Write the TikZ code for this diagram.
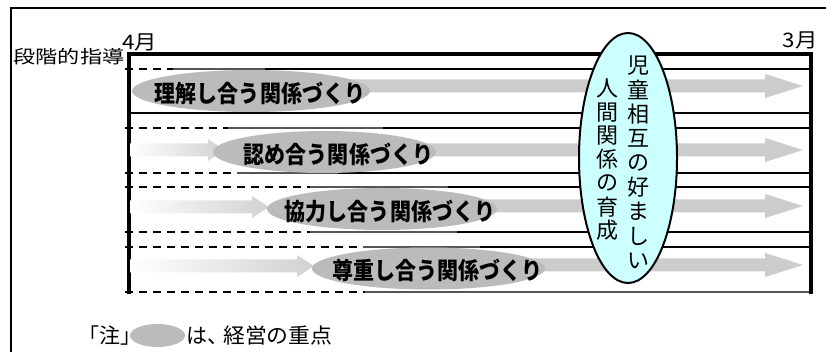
\documentclass[tikz,border=0pt]{standalone}
\usepackage{fontspec}
\usetikzlibrary{shapes.geometric}
\newfontfamily\cjk{Noto Sans CJK JP}
\newfontfamily\cjkp[RawFeature=+palt]{Noto Sans CJK JP}
\definecolor{bandgray}{HTML}{CCCCCC}
\definecolor{ellgray}{HTML}{BBBBBB}
\definecolor{cyanfill}{HTML}{CCFFFF}
\definecolor{linegray}{HTML}{555555}
\newcommand\rowlabel[1]{\scalebox{1.02}[1.15]{#1}}
\begin{document}
\begin{tikzpicture}[x=1pt,y=-1pt,
  rowdash/.style={line width=1.6pt, dash pattern=on 8pt off 6pt},
  rowgray/.style={line width=1.8pt, draw=linegray},
  rowsolid/.style={line width=1.8pt, draw=black},
  thick line/.style={line width=3.5pt, line cap=rect},
  ellbox/.style={ellipse, fill=ellgray, inner sep=0pt, minimum height=42pt},
  lbl/.style={font=\cjk\bfseries\fontsize{20.6}{22}\selectfont, inner sep=0pt},
  vch/.style={font=\cjk\fontsize{22}{22}\selectfont, inner sep=0pt},
  plain/.style={font=\cjk\fontsize{18}{20}\selectfont, inner sep=0pt}
]
\useasboundingbox (0,0) rectangle (826,352);
\clip (0,0) rectangle (826,352);
% outer frame
\draw[line width=1.6pt] (11,8) rectangle (850,380);

% row lines
\draw[rowdash] (125,69) -- (173,69);
\draw[rowgray] (173,69) -- (265,69);
\draw[rowsolid] (265,69) -- (811,69);
\draw[rowsolid] (129,113) -- (811,113);
\draw[rowdash] (125,128) -- (228,128);
\draw[rowgray] (228,128) -- (383,128);
\draw[rowsolid] (383,128) -- (811,128);
\draw[rowdash] (125,173) -- (237,173);
\draw[rowgray] (237,173) -- (338,173);
\draw[rowsolid] (338,173) -- (811,173);
\draw[rowdash] (125,187) -- (310,187);
\draw[rowgray] (310,187) -- (448,187);
\draw[rowsolid] (448,187) -- (811,187);
\draw[rowdash] (125,232) -- (310,232);
\draw[rowgray] (310,232) -- (457,232);
\draw[rowsolid] (457,232) -- (811,232);
\draw[rowdash] (125,247) -- (363,247);
\draw[rowgray] (363,247) -- (480,247);
\draw[rowsolid] (480,247) -- (811,247);
\draw[rowdash] (125,292) -- (365,292);
\draw[rowgray] (365,292) -- (811,292);

% main box
\draw[thick line] (129,292) -- (129,54) -- (811,54) -- (811,292);

% right gray arrows
\foreach \c/\xs in {86/251, 150/324, 206/382, 265/428} {
  \fill[bandgray] (\xs,\c-6.5) -- (765,\c-6.5) -- (765,\c-12) -- (803,\c)
     -- (765,\c+12) -- (765,\c+6.5) -- (\xs,\c+6.5) -- cycle;
}
% left gradient arrows
\foreach \c/\xh/\tip in {150/208/225, 207/252/269, 266/297/314} {
  \shade[left color=white, right color=bandgray!90]
     (130,\c-6.5) -- (\xh,\c-6.5) -- (\xh,\c-11) -- (\tip,\c)
     -- (\xh,\c+11) -- (\xh,\c+6.5) -- (130,\c+6.5) -- cycle;
}

% row ellipses and labels
\node[ellbox, minimum width=238pt] (e1) at (251,91) {};
\node[ellbox, minimum width=223pt] (e2) at (324.5,152) {};
\node[ellbox, minimum width=230pt] (e3) at (382,209) {};
\node[ellbox, minimum width=233pt] (e4) at (428.5,268.5) {};
\node[lbl] (t1) at (260,93) {\rowlabel{理解し合う関係づくり}};
\node[lbl] (t2) at (338.5,154) {\rowlabel{認め合う関係づくり}};
\node[lbl] (t3) at (390,211) {\rowlabel{協力し合う関係づくり}};
\node[lbl] (t4) at (437.5,270) {\rowlabel{尊重し合う関係づくり}};

% big cyan ellipse
\node[ellipse, draw, line width=2pt, fill=cyanfill, inner sep=0pt,
      minimum width=98pt, minimum height=250pt] (big) at (628,158) {};
\foreach \ch [count=\i] in {児,童,相,互,の,好,ま,し,い}
  \node[vch] (r\i) at (638,{53+24.4*\i-12.2}) {\ch};
\foreach \ch [count=\i] in {人,間,関,係,の,育,成}
  \node[vch] (l\i) at (607,{77+23.6*\i-11.8}) {\ch};

% headings
\node[plain] (lvl) at (69,57) {\scalebox{1.23}[1]{段階的指導}};
\node[plain, font=\cjk\fontsize{20}{22}\selectfont] (m4) at (139.5,42) {\scalebox{1.12}[1]{4月}};
\node[plain, font=\cjk\fontsize{20}{22}\selectfont] (m3) at (800,40) {\scalebox{1.12}[1]{3月}};

% legend
\node[plain, font=\cjkp\fontsize{21}{22}\selectfont] (note) at (110,336) {「注」};
\node[ellbox, minimum width=55pt, minimum height=23pt] (legell) at (157.5,335.5) {};
\node[plain, font=\cjkp\fontsize{21}{22}\selectfont, anchor=west] (ha) at (186,336) {は、};
\node[plain, font=\cjk\fontsize{21}{22}\selectfont, anchor=west] (keiei) at (223,336) {\scalebox{1.04}[1]{経営の重点}};
\end{tikzpicture}
\end{document}
